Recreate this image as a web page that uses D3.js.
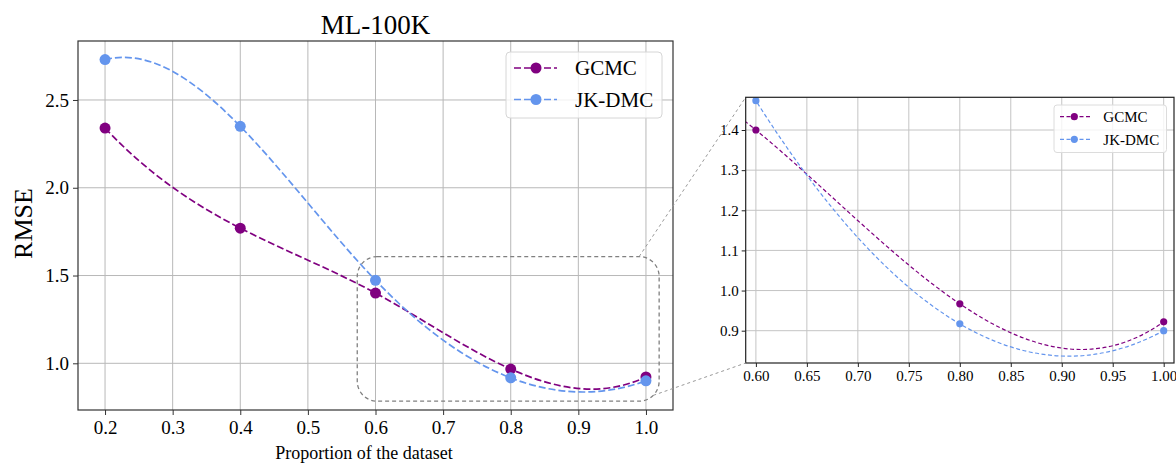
<!DOCTYPE html>
<html>
<head>
<meta charset="utf-8">
<script src="https://cdn.jsdelivr.net/npm/d3@7"></script>
<style>
  body { margin: 0; background: #fff; }
  svg text { font-family: "Liberation Serif", "DejaVu Serif", serif !important; fill: #000; }
</style>
</head>
<body>
<svg id="chart" width="1176" height="467"></svg>
<script>
// data
const proportions = [0.2, 0.4, 0.6, 0.8, 1.0]
const gcmc = [2.34, 1.77, 1.40, 0.967, 0.922]
const jkdmc = [2.73, 2.35, 1.473, 0.917, 0.900]
const seriesNames = ["GCMC", "JK-DMC"]
const seriesColors = ["#800080", "#6495ED"]
const xTicksMain = [0.2, 0.3, 0.4, 0.5, 0.6, 0.7, 0.8, 0.9, 1.0]
const yTicksMain = [1.0, 1.5, 2.0, 2.5]
const xTicksInset = [0.60, 0.65, 0.70, 0.75, 0.80, 0.85, 0.90, 0.95, 1.00]
const yTicksInset = [0.9, 1.0, 1.1, 1.2, 1.3, 1.4]

const series = [gcmc, jkdmc].map((vals, k) => ({
    name: seriesNames[k],
    color: seriesColors[k],
    points: proportions.map((p, i) => ({x: p, y: vals[i]}))
}))

// cubic spline, not-a-knot ends (same as scipy's make_interp_spline)
function splineSlopes(x, y) {
    const n = x.length, h = [], s = []
    for (let i = 0; i < n - 1; i++) { h.push(x[i+1] - x[i]); s.push((y[i+1] - y[i]) / h[i]) }
    const A = Array.from({length: n}, () => new Array(n).fill(0))
    const b = new Array(n).fill(0)
    let d = x[2] - x[0]
    A[0][0] = h[1]; A[0][1] = d
    b[0] = ((h[0] + 2 * d) * h[1] * s[0] + h[0] * h[0] * s[1]) / d
    for (let i = 1; i < n - 1; i++) {
        A[i][i-1] = h[i]; A[i][i] = 2 * (h[i-1] + h[i]); A[i][i+1] = h[i-1]
        b[i] = 3 * (h[i] * s[i-1] + h[i-1] * s[i])
    }
    d = x[n-1] - x[n-3]
    A[n-1][n-2] = d; A[n-1][n-1] = h[n-3]
    b[n-1] = (h[n-2] * h[n-2] * s[n-3] + (2 * d + h[n-2]) * h[n-3] * s[n-2]) / d
    // gauss elimination
    for (let c = 0; c < n; c++) {
        let p = c
        for (let r = c + 1; r < n; r++) if (Math.abs(A[r][c]) > Math.abs(A[p][c])) p = r
        ;[A[c], A[p]] = [A[p], A[c]]; [b[c], b[p]] = [b[p], b[c]]
        for (let r = c + 1; r < n; r++) {
            const f = A[r][c] / A[c][c]
            for (let k = c; k < n; k++) A[r][k] -= f * A[c][k]
            b[r] -= f * b[c]
        }
    }
    const m = new Array(n).fill(0)
    for (let r = n - 1; r >= 0; r--) {
        let acc = b[r]
        for (let k = r + 1; k < n; k++) acc -= A[r][k] * m[k]
        m[r] = acc / A[r][r]
    }
    return m
}

function SplineCurve(context) { this._context = context }
SplineCurve.prototype = {
    areaStart() { this._line = 0 },
    areaEnd() { this._line = NaN },
    lineStart() { this._px = []; this._py = [] },
    point(x, y) { this._px.push(+x); this._py.push(+y) },
    lineEnd() {
        const xs = this._px, ys = this._py, n = xs.length, c = this._context
        if (!n) return
        c.moveTo(xs[0], ys[0])
        if (n < 4) { for (let i = 1; i < n; i++) c.lineTo(xs[i], ys[i]); return }
        const m = splineSlopes(xs, ys)
        for (let i = 0; i < n - 1; i++) {
            const h = xs[i+1] - xs[i]
            c.bezierCurveTo(xs[i] + h / 3, ys[i] + m[i] * h / 3,
                            xs[i+1] - h / 3, ys[i+1] - m[i+1] * h / 3,
                            xs[i+1], ys[i+1])
        }
    }
}
const curveSpline = context => new SplineCurve(context)

const svg = d3.select('#chart')
const serif = '"Liberation Serif", serif'

// ---------- main plot ----------
const x = d3.scaleLinear().domain([0.16, 1.04]).range([78, 673])
const y = d3.scaleLinear().domain([0.734, 2.836]).range([410, 41])

const main = svg.append('g')

main.append('g').selectAll('line.gx')
    .data(xTicksMain).join('line')
    .attr('x1', d => x(d)).attr('x2', d => x(d))
    .attr('y1', y.range()[1]).attr('y2', y.range()[0])
    .attr('stroke', '#b8b8b8').attr('stroke-width', 1)
main.append('g').selectAll('line.gy')
    .data(yTicksMain).join('line')
    .attr('y1', d => y(d)).attr('y2', d => y(d))
    .attr('x1', x.range()[0]).attr('x2', x.range()[1])
    .attr('stroke', '#b8b8b8').attr('stroke-width', 1)

const xAxis = main.append('g')
    .attr('transform', `translate(0,${y.range()[0]})`)
    .call(d3.axisBottom(x).tickValues(xTicksMain).tickFormat(d3.format('.1f')).tickSize(5).tickPadding(6))
const yAxis = main.append('g')
    .attr('transform', `translate(${x.range()[0]},0)`)
    .call(d3.axisLeft(y).tickValues(yTicksMain).tickFormat(d3.format('.1f')).tickSize(5).tickPadding(4))
;[xAxis, yAxis].forEach(a => {
    a.select('.domain').remove()
    a.attr('font-family', null)
    a.selectAll('.tick line').attr('stroke', '#333')
    a.selectAll('.tick text').style('font-size', '19px').style('font-family', serif)
})

main.append('rect')
    .attr('x', x.range()[0]).attr('y', y.range()[1])
    .attr('width', x.range()[1] - x.range()[0]).attr('height', y.range()[0] - y.range()[1])
    .attr('fill', 'none').attr('stroke', '#333').attr('stroke-width', 1.2)

const lineMain = d3.line().x(d => x(d.x)).y(d => y(d.y)).curve(curveSpline)
series.forEach(s => {
    main.append('path')
        .attr('d', lineMain(s.points))
        .attr('fill', 'none').attr('stroke', s.color)
        .attr('stroke-width', 1.7).attr('stroke-dasharray', '7,3')
    main.append('g').selectAll('circle')
        .data(s.points).join('circle')
        .attr('cx', d => x(d.x)).attr('cy', d => y(d.y)).attr('r', 5.5)
        .attr('fill', s.color)
})

main.append('text')
    .attr('x', (x.range()[0] + x.range()[1]) / 2).attr('y', 33.5)
    .attr('text-anchor', 'middle').attr('font-size', 27)
    .text('ML-100K')
main.append('text')
    .attr('transform', `translate(31.5,${(y.range()[0] + y.range()[1]) / 2 - 2}) rotate(-90)`)
    .attr('text-anchor', 'middle').attr('font-size', 26)
    .text('RMSE')
main.append('text')
    .attr('x', 364).attr('y', 459)
    .attr('text-anchor', 'middle').attr('font-size', 18)
    .text('Proportion of the dataset')

// main legend
const legMain = main.append('g').attr('transform', 'translate(506,52)')
legMain.append('rect')
    .attr('width', 156).attr('height', 66).attr('rx', 4)
    .attr('fill', 'white').attr('fill-opacity', 0.8)
    .attr('stroke', '#d6d6d6').attr('stroke-width', 1)
series.forEach((s, i) => {
    const g = legMain.append('g').attr('transform', `translate(0,${16 + i * 31.5})`)
    g.append('line').attr('x1', 8).attr('x2', 51)
        .attr('stroke', s.color).attr('stroke-width', 1.7).attr('stroke-dasharray', '7,3')
    g.append('circle').attr('cx', 30).attr('r', 5.5).attr('fill', s.color)
    g.append('text').attr('x', 69).attr('dy', '0.35em').attr('font-size', 21).text(s.name)
})

// zoomed region box (data coordinates of the main plot)
const zoomBox = {x0: 0.573, x1: 1.0195, y0: 0.784, y1: 1.608}
const boxR = 20
const bx0 = x(zoomBox.x0), bx1 = x(zoomBox.x1), by0 = y(zoomBox.y1), by1 = y(zoomBox.y0)
main.append('rect')
    .attr('x', bx0).attr('y', by0).attr('width', bx1 - bx0).attr('height', by1 - by0)
    .attr('rx', boxR).attr('ry', boxR)
    .attr('fill', 'none').attr('stroke', '#808080')
    .attr('stroke-width', 1.3).attr('stroke-dasharray', '4,3')

// ---------- inset ----------
const xi = d3.scaleLinear().domain([0.59, 1.0101]).range([745.7, 1174])
const yi = d3.scaleLinear().domain([0.8195, 1.4815]).range([363, 97.3])

const inset = svg.append('g')
svg.append('defs').append('clipPath').attr('id', 'insetClip')
    .append('rect')
    .attr('x', xi.range()[0]).attr('y', yi.range()[1])
    .attr('width', xi.range()[1] - xi.range()[0]).attr('height', yi.range()[0] - yi.range()[1])

inset.append('g').selectAll('line')
    .data(xTicksInset).join('line')
    .attr('x1', d => xi(d)).attr('x2', d => xi(d))
    .attr('y1', yi.range()[1]).attr('y2', yi.range()[0])
    .attr('stroke', '#c4c4c4').attr('stroke-width', 1)
inset.append('g').selectAll('line')
    .data(yTicksInset).join('line')
    .attr('y1', d => yi(d)).attr('y2', d => yi(d))
    .attr('x1', xi.range()[0]).attr('x2', xi.range()[1])
    .attr('stroke', '#c4c4c4').attr('stroke-width', 1)

const xiAxis = inset.append('g')
    .attr('transform', `translate(0,${yi.range()[0]})`)
    .call(d3.axisBottom(xi).tickValues(xTicksInset).tickFormat(d3.format('.2f')).tickSize(4).tickPadding(3))
const yiAxis = inset.append('g')
    .attr('transform', `translate(${xi.range()[0]},0)`)
    .call(d3.axisLeft(yi).tickValues(yTicksInset).tickFormat(d3.format('.1f')).tickSize(4).tickPadding(3))
;[xiAxis, yiAxis].forEach(a => {
    a.select('.domain').remove()
    a.attr('font-family', null)
    a.selectAll('.tick line').attr('stroke', '#222')
    a.selectAll('.tick text').style('font-size', '15px').style('font-family', serif)
})

const lineInset = d3.line().x(d => xi(d.x)).y(d => yi(d.y)).curve(curveSpline)
const insetMarks = inset.append('g').attr('clip-path', 'url(#insetClip)')
series.forEach(s => {
    insetMarks.append('path')
        .attr('d', lineInset(s.points))
        .attr('fill', 'none').attr('stroke', s.color)
        .attr('stroke-width', 1.2).attr('stroke-dasharray', '4,2.5')
    insetMarks.append('g').selectAll('circle')
        .data(s.points.filter(d => d.x >= xi.domain()[0])).join('circle')
        .attr('cx', d => xi(d.x)).attr('cy', d => yi(d.y)).attr('r', 3.6)
        .attr('fill', s.color)
})

inset.append('rect')
    .attr('x', xi.range()[0]).attr('y', yi.range()[1])
    .attr('width', xi.range()[1] - xi.range()[0]).attr('height', yi.range()[0] - yi.range()[1])
    .attr('fill', 'none').attr('stroke', '#222').attr('stroke-width', 1.2)

// inset legend
const legInset = inset.append('g').attr('transform', 'translate(1054,105)')
legInset.append('rect')
    .attr('width', 112.5).attr('height', 47.5).attr('rx', 3)
    .attr('fill', 'white').attr('fill-opacity', 0.8)
    .attr('stroke', '#dcdcdc').attr('stroke-width', 1)
series.forEach((s, i) => {
    const g = legInset.append('g').attr('transform', `translate(0,${11.7 + i * 22.6})`)
    g.append('line').attr('x1', 6).attr('x2', 36.7)
        .attr('stroke', s.color).attr('stroke-width', 1.2).attr('stroke-dasharray', '4,2.5')
    g.append('circle').attr('cx', 20.3).attr('r', 3.6).attr('fill', s.color)
    g.append('text').attr('x', 49.3).attr('dy', '0.35em').attr('font-size', 15).text(s.name)
})

// connector lines from the zoom box to the inset corners
const arc45 = Math.SQRT1_2 * boxR
const connectors = [
    [[bx1 - boxR, by0], [xi.range()[0], yi.range()[1]]],
    [[bx1 - boxR + arc45, by1 - boxR + arc45], [xi.range()[0], yi.range()[0]]]
]
svg.append('g').selectAll('line')
    .data(connectors).join('line')
    .attr('x1', d => d[0][0]).attr('y1', d => d[0][1])
    .attr('x2', d => d[1][0]).attr('y2', d => d[1][1])
    .attr('stroke', '#999').attr('stroke-width', 1).attr('stroke-dasharray', '3,3')
</script>
</body>
</html>
